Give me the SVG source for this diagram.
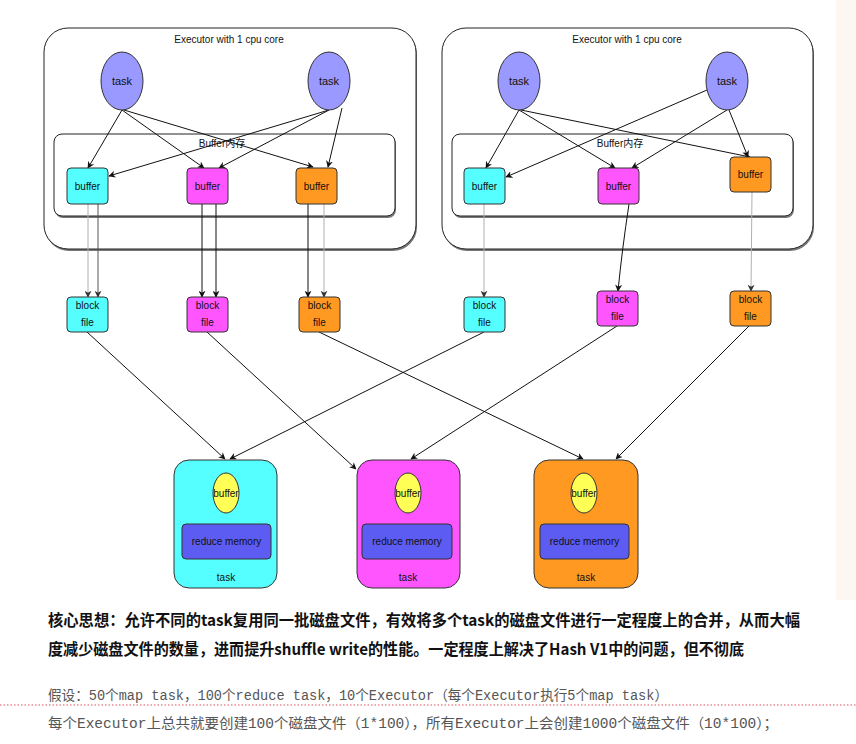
<svg xmlns="http://www.w3.org/2000/svg" width="856" height="744" viewBox="0 0 856 744">
<defs>
<marker id="ah" viewBox="0 0 10 10" refX="9" refY="5" markerWidth="7" markerHeight="7" orient="auto" markerUnits="userSpaceOnUse">
<path d="M0,0 L10,5 L0,10 L3,5 z" fill="#111"/>
</marker>
<marker id="ahg" viewBox="0 0 10 10" refX="9" refY="5" markerWidth="7" markerHeight="7" orient="auto" markerUnits="userSpaceOnUse">
<path d="M0,0 L10,5 L0,10 L3,5 z" fill="#333"/>
</marker>
</defs>
<style>
text{font-family:"Liberation Sans",Arial,"Noto Sans CJK SC",sans-serif;fill:#111}
.lbl{font-size:10px;text-anchor:middle}
.ttl{font-size:10px;text-anchor:middle}
.tk{font-size:11px;text-anchor:middle}
.frame{fill:#fff;stroke:#222;stroke-width:1}
.shadow{fill:#777}
.cy{fill:#55ffff;stroke:#333;stroke-width:1}
.mg{fill:#ff55ff;stroke:#333;stroke-width:1}
.or{fill:#ff9922;stroke:#333;stroke-width:1}
.task{fill:#9999ff;stroke:#333;stroke-width:1}
.yel{fill:#ffff55;stroke:#333;stroke-width:1}
.rm{fill:#5c5cf2;stroke:#333;stroke-width:1}
.c{fill:none;stroke:#111;stroke-width:1;marker-end:url(#ah)}
.cl{fill:none;stroke:#b0b0b0;stroke-width:1;marker-end:url(#ahg)}
.cm{fill:none;stroke:#555;stroke-width:1;marker-end:url(#ahg)}
.note{font-family:"Noto Sans CJK SC","Liberation Sans",sans-serif;font-size:15.5px;font-weight:bold;fill:#111}
.note2{font-family:"Liberation Mono","Noto Sans CJK SC",monospace;font-size:14px;fill:#555}
</style>
<rect x="0" y="0" width="856" height="744" fill="#fff"/>
<rect x="836" y="0" width="20" height="600" fill="#fcf7f3"/>

<g id="executor1">
<rect class="shadow" x="45" y="30" width="372" height="221" rx="24"/>
<rect class="frame" x="44" y="28" width="372" height="221" rx="24"/>
<text class="ttl" x="229" y="43">Executor with 1 cpu core</text>
</g>
<g id="buffermem1">
<rect class="shadow" x="55" y="136" width="341" height="82" rx="8"/>
<rect class="frame" x="54" y="134" width="341" height="82" rx="8"/>
<text class="ttl" x="222" y="147">Buffer内存</text>
</g>
<g id="executor2">
<rect class="shadow" x="443" y="30" width="371" height="221" rx="24"/>
<rect class="frame" x="442" y="28" width="371" height="221" rx="24"/>
<text class="ttl" x="627" y="43">Executor with 1 cpu core</text>
</g>
<g id="buffermem2">
<rect class="shadow" x="453" y="136" width="341" height="82" rx="8"/>
<rect class="frame" x="452" y="134" width="341" height="82" rx="8"/>
<text class="ttl" x="620" y="147">Buffer内存</text>
</g>

<g id="connectors">
<line class="c" x1="122" y1="110" x2="88" y2="168"/>
<line class="c" x1="122" y1="110" x2="204" y2="168"/>
<line class="c" x1="124" y1="110" x2="313" y2="167"/>
<line class="c" x1="329" y1="110" x2="109" y2="176"/>
<line class="c" x1="329" y1="110" x2="219" y2="168"/>
<line class="c" x1="342" y1="108" x2="328" y2="167"/>
<line class="c" x1="519" y1="110" x2="486" y2="168"/>
<line class="c" x1="519" y1="110" x2="615" y2="168"/>
<line class="c" x1="521" y1="110" x2="750" y2="157"/>
<line class="c" x1="707" y1="90" x2="506" y2="177"/>
<line class="c" x1="727" y1="110" x2="632" y2="168"/>
<line class="c" x1="729" y1="110" x2="748" y2="157"/>
<line class="cl" x1="88" y1="204" x2="88" y2="297"/>
<line class="cm" x1="98" y1="204" x2="98" y2="297"/>
<line class="c" x1="202" y1="204" x2="202" y2="297"/>
<line class="c" x1="216" y1="204" x2="216" y2="297"/>
<line class="c" x1="308" y1="204" x2="308" y2="297"/>
<line class="cl" x1="324" y1="204" x2="324" y2="297"/>
<line class="cl" x1="484" y1="204" x2="484" y2="297"/>
<path class="c" d="M629,204 Q622,250 618,291"/>
<line class="cl" x1="752" y1="192" x2="751" y2="291"/>
<line class="c" x1="87" y1="332" x2="225" y2="459"/>
<line class="c" x1="207" y1="332" x2="356" y2="469"/>
<line class="c" x1="319" y1="332" x2="583" y2="459"/>
<line class="c" x1="484" y1="332" x2="230" y2="459"/>
<line class="c" x1="617" y1="326" x2="411" y2="459"/>
<line class="c" x1="749" y1="326" x2="616" y2="459"/>
</g>

<g id="task1"><ellipse class="task" cx="122" cy="81" rx="21" ry="29"/><text class="tk" x="122" y="85">task</text></g>
<g id="task2"><ellipse class="task" cx="329" cy="81" rx="21" ry="29"/><text class="tk" x="329" y="85">task</text></g>
<g id="task3"><ellipse class="task" cx="519" cy="81" rx="21" ry="29"/><text class="tk" x="519" y="85">task</text></g>
<g id="task4"><ellipse class="task" cx="727" cy="81" rx="21" ry="29"/><text class="tk" x="727" y="85">task</text></g>

<g id="buf1"><rect class="cy" x="67" y="168" width="41" height="36" rx="4"/><text class="lbl" x="87.5" y="190">buffer</text></g>
<g id="buf2"><rect class="mg" x="187" y="168" width="41" height="36" rx="4"/><text class="lbl" x="207.5" y="190">buffer</text></g>
<g id="buf3"><rect class="or" x="296" y="168" width="41" height="36" rx="4"/><text class="lbl" x="316.5" y="190">buffer</text></g>
<g id="buf4"><rect class="cy" x="464" y="168" width="41" height="36" rx="4"/><text class="lbl" x="484.5" y="190">buffer</text></g>
<g id="buf5"><rect class="mg" x="598" y="168" width="41" height="36" rx="4"/><text class="lbl" x="618.5" y="190">buffer</text></g>
<g id="buf6"><rect class="or" x="730" y="157" width="41" height="35" rx="4"/><text class="lbl" x="750.5" y="178">buffer</text></g>

<g id="bf1"><rect class="cy" x="67" y="297" width="41" height="35" rx="4"/><text class="lbl" x="87.5" y="309">block</text><text class="lbl" x="87.5" y="326">file</text></g>
<g id="bf2"><rect class="mg" x="187" y="297" width="41" height="35" rx="4"/><text class="lbl" x="207.5" y="309">block</text><text class="lbl" x="207.5" y="326">file</text></g>
<g id="bf3"><rect class="or" x="299" y="297" width="41" height="35" rx="4"/><text class="lbl" x="319.5" y="309">block</text><text class="lbl" x="319.5" y="326">file</text></g>
<g id="bf4"><rect class="cy" x="464" y="297" width="41" height="35" rx="4"/><text class="lbl" x="484.5" y="309">block</text><text class="lbl" x="484.5" y="326">file</text></g>
<g id="bf5"><rect class="mg" x="597" y="291" width="41" height="35" rx="4"/><text class="lbl" x="617.5" y="303">block</text><text class="lbl" x="617.5" y="320">file</text></g>
<g id="bf6"><rect class="or" x="730" y="291" width="41" height="35" rx="4"/><text class="lbl" x="750.5" y="303">block</text><text class="lbl" x="750.5" y="320">file</text></g>

<g id="reduce1">
<rect class="cy" x="174" y="460" width="103" height="128" rx="15"/>
<ellipse class="yel" cx="226" cy="493" rx="13" ry="20"/><text class="lbl" x="226" y="497">buffer</text>
<rect class="rm" x="182" y="524" width="89" height="35" rx="4"/><text class="lbl" x="226.5" y="545">reduce memory</text>
<text class="lbl" x="226" y="581">task</text>
</g>
<g id="reduce2">
<rect class="mg" x="357" y="460" width="103" height="128" rx="15"/>
<ellipse class="yel" cx="408" cy="493" rx="13" ry="20"/><text class="lbl" x="408" y="497">buffer</text>
<rect class="rm" x="362" y="524" width="90" height="35" rx="4"/><text class="lbl" x="407" y="545">reduce memory</text>
<text class="lbl" x="408" y="581">task</text>
</g>
<g id="reduce3">
<rect class="or" x="534" y="460" width="104" height="128" rx="15"/>
<ellipse class="yel" cx="584" cy="493" rx="13" ry="20"/><text class="lbl" x="584" y="497">buffer</text>
<rect class="rm" x="540" y="524" width="89" height="35" rx="4"/><text class="lbl" x="584.5" y="545">reduce memory</text>
<text class="lbl" x="586" y="581">task</text>
</g>

<text class="note" x="48" y="626" textLength="752" lengthAdjust="spacingAndGlyphs">核心思想：允许不同的task复用同一批磁盘文件，有效将多个task的磁盘文件进行一定程度上的合并，从而大幅</text>
<text class="note" x="48" y="655" textLength="696" lengthAdjust="spacingAndGlyphs">度减少磁盘文件的数量，进而提升shuffle write的性能。一定程度上解决了Hash V1中的问题，但不彻底</text>
<text class="note2" x="48" y="700" textLength="620" lengthAdjust="spacingAndGlyphs">假设：50个map task，100个reduce task，10个Executor（每个Executor执行5个map task）</text>
<line x1="0" y1="705" x2="856" y2="705" stroke="#e05060" stroke-width="1" stroke-dasharray="1.5,2"/>
<text class="note2" x="48" y="728" textLength="730" lengthAdjust="spacingAndGlyphs">每个Executor上总共就要创建100个磁盘文件（1*100），所有Executor上会创建1000个磁盘文件（10*100）；</text>
</svg>
